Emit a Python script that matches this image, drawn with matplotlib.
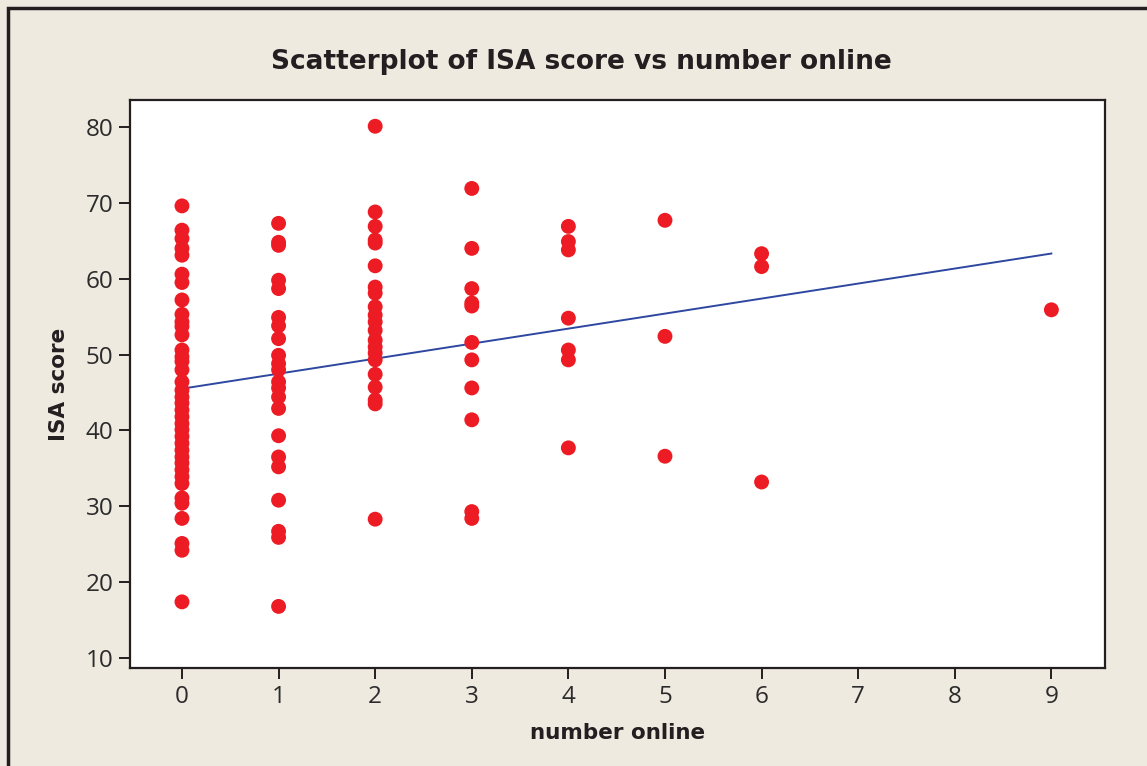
import numpy as np
import matplotlib
matplotlib.use("Agg")
import matplotlib.pyplot as plt
from matplotlib.patches import Rectangle

# scores, grouped by number online
online_0 = [69.6, 66.4, 65.3, 64.0, 63.1, 60.6, 59.5, 57.2, 55.3, 54.3, 53.7,
            52.6, 50.6, 49.7, 49.1, 48.0, 46.4, 45.3, 44.4, 43.6, 42.7, 41.8,
            40.9, 40.1, 39.2, 38.3, 37.4, 36.5, 35.7, 34.8, 33.9, 33.0, 31.1,
            30.4, 28.4, 25.1, 24.2, 17.4]
online_1 = [67.3, 64.8, 64.4, 59.8, 58.7, 54.9, 53.8, 52.1, 49.9, 48.8, 48.0,
            46.4, 45.6, 44.4, 42.9, 39.3, 36.5, 35.2, 30.8, 26.7, 25.9, 16.8]
online_2 = [80.1, 68.8, 66.9, 65.1, 64.7, 61.7, 58.9, 58.1, 56.3, 55.2, 54.3,
            53.2, 51.9, 51.0, 50.2, 49.3, 47.4, 45.7, 44.0, 43.5, 28.3]
online_3 = [71.9, 64.0, 58.7, 56.8, 56.4, 51.6, 49.3, 45.6, 41.4, 29.3, 28.4]
online_4 = [66.9, 64.9, 63.8, 54.8, 50.6, 49.3, 37.7]
online_5 = [67.7, 52.4, 36.6]
online_6 = [63.3, 61.6, 33.2]
online_9 = [55.9]

groups = {0: online_0, 1: online_1, 2: online_2, 3: online_3,
          4: online_4, 5: online_5, 6: online_6, 9: online_9}

x = np.concatenate([[k] * len(v) for k, v in groups.items()]).astype(float)
y = np.concatenate([v for v in groups.values()])

# fitted line as drawn in the picture
intercept, slope = 45.5, 1.98

bg = "#eeeae0"
fig = plt.figure(figsize=(11.47, 7.66), dpi=100, facecolor=bg)
fig.patches.append(Rectangle((8 / 1147, -0.1), 1.2, 1.1 - 8 / 766,
                             transform=fig.transFigure, fill=False,
                             edgecolor="#231f20", linewidth=2.5))

ax = fig.add_axes([130 / 1147, 98 / 766, 975 / 1147, 568 / 766])
ax.set_facecolor("white")

ax.scatter(x, y, s=115, color="#ed1c24", edgecolors="none", zorder=3)
xl = np.array([0, 9])
ax.plot(xl, intercept + slope * xl, color="#2e47a0", linewidth=1.4, zorder=2)

ax.set_xlim(-0.538, 9.555)
ax.set_ylim(8.68, 83.56)
ax.set_xticks(range(10))
ax.set_yticks(range(10, 81, 10))

for s in ax.spines.values():
    s.set_color("#231f20")
    s.set_linewidth(1.6)
ax.tick_params(direction="out", length=8, width=1.4, color="#231f20",
               labelsize=17.5, labelcolor="#2b2b2b", pad=4)
for lab in ax.get_xticklabels() + ax.get_yticklabels():
    lab.set_family("Open Sans")

fig.text(581 / 1147, 1 - 62 / 766, "Scatterplot of ISA score vs number online",
         fontsize=19, fontweight="bold", color="#231f20", family="DejaVu Sans",
         ha="center", va="center")
ax.set_xlabel("number online", fontsize=15.5, fontweight="bold",
              color="#231f20", labelpad=10, family="DejaVu Sans")
ax.set_ylabel("ISA score", fontsize=15.5, fontweight="bold",
              color="#231f20", labelpad=12, family="DejaVu Sans")

fig.savefig("out.png", dpi=100, facecolor=bg)
